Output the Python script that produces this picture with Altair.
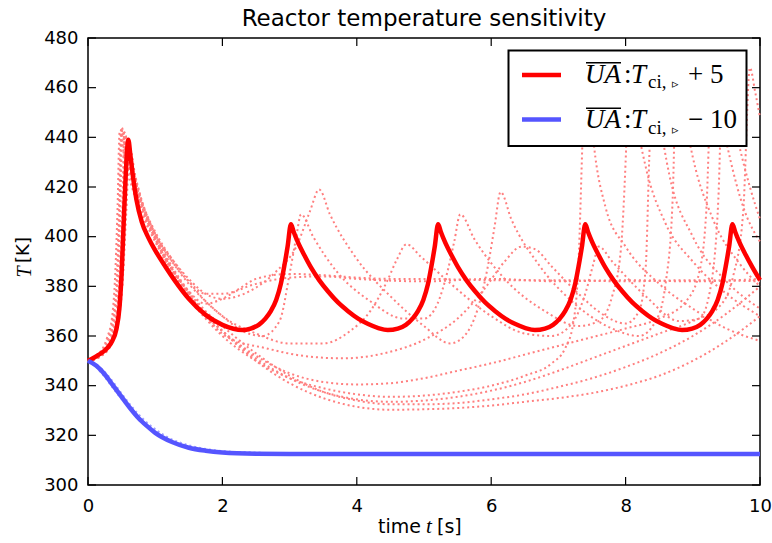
import altair as alt
import pandas as pd

# ---------------- data ----------------
x_ticks = [0, 2, 4, 6, 8, 10]
y_ticks = [300, 320, 340, 360, 380, 400, 420, 440, 460, 480]

red_main = [(0, 350), (0.15, 352.3), (0.3, 355.5), (0.36, 358), (0.42, 362.5), (0.47, 372), (0.5, 385),
            (0.53, 405), (0.56, 424), (0.6, 439), (0.63, 433), (0.67, 424), (0.72, 415), (0.8, 406),
            (0.9, 399.5), (1.0, 394.5), (1.15, 388), (1.3, 382), (1.5, 375), (1.75, 368.5), (2.0, 364.5),
            (2.3, 362.4),
            (2.42, 363), (2.54, 364.5), (2.64, 367), (2.72, 370), (2.8, 374.5), (2.87, 381), (2.92, 388),
            (2.97, 396), (3.02, 405), (3.06, 402), (3.12, 398), (3.22, 392.5), (3.32, 387.5), (3.44, 382.5),
            (3.57, 378), (3.72, 373.5), (3.87, 370), (4.02, 367), (4.17, 364.8), (4.32, 363.2), (4.46, 362.4),
            (4.61, 363), (4.73, 364.5), (4.83, 367), (4.91, 370), (4.99, 374.5), (5.06, 381), (5.11, 388),
            (5.16, 396), (5.21, 405), (5.25, 402), (5.31, 398), (5.41, 392.5), (5.51, 387.5), (5.63, 382.5),
            (5.76, 378), (5.91, 373.5), (6.06, 370), (6.21, 367), (6.36, 364.8), (6.51, 363.2), (6.65, 362.4),
            (6.80, 363), (6.92, 364.5), (7.02, 367), (7.10, 370), (7.18, 374.5), (7.25, 381), (7.30, 388),
            (7.35, 396), (7.40, 405), (7.44, 402), (7.50, 398), (7.60, 392.5), (7.70, 387.5), (7.82, 382.5),
            (7.95, 378), (8.10, 373.5), (8.25, 370), (8.40, 367), (8.55, 364.8), (8.70, 363.2), (8.84, 362.4),
            (8.99, 363), (9.11, 364.5), (9.21, 367), (9.29, 370), (9.37, 374.5), (9.44, 381), (9.49, 388),
            (9.54, 396), (9.59, 405), (9.63, 402), (9.69, 398), (9.79, 392.5), (9.89, 387.5), (10.0, 382.5)]

blue_main = [(0, 350), (0.125, 348), (0.25, 344.5), (0.375, 340), (0.5, 335.5), (0.625, 331),
             (0.75, 327), (0.875, 323.8), (1.0, 321), (1.25, 317.3), (1.5, 315), (1.75, 313.8),
             (2.0, 313.1), (2.5, 312.6), (3.0, 312.5), (4, 312.5), (6, 312.5), (8, 312.5), (10, 312.5)]

blue_dot_1 = [(0, 350), (0.15, 347.5), (0.3, 342.5), (0.45, 337), (0.6, 332), (0.8, 326.5), (1.0, 322),
              (1.25, 318), (1.5, 315.5), (1.8, 314), (2.2, 313.2), (3, 312.8), (5, 312.7), (10, 312.7)]
blue_dot_2 = [(0, 350), (0.12, 348.5), (0.25, 345.5), (0.4, 340.5), (0.55, 335), (0.75, 328.5),
              (0.95, 323.5), (1.2, 319), (1.5, 316), (1.8, 314.3), (2.2, 313.3), (3, 312.8), (6, 312.6),
              (10, 312.6)]
blue_dot_3 = [(0, 350), (0.12, 347.5), (0.25, 343.5), (0.4, 338), (0.55, 333), (0.75, 327), (0.95, 322),
              (1.2, 318), (1.5, 315), (1.8, 313.6), (2.2, 312.9), (3, 312.4), (6, 312.3), (10, 312.3)]

red_dot_1 = [(0, 350), (0.15, 352), (0.3, 358), (0.38, 366), (0.44, 385), (0.47, 410), (0.5, 444),
             (0.58, 432), (0.7, 420), (0.85, 408), (1.0, 399), (1.25, 387), (1.5, 378), (1.75, 373),
             (2.0, 375), (2.25, 379), (2.5, 383), (3.0, 385), (3.5, 384.5), (4.0, 383.5), (4.5, 383),
             (5.0, 383), (6.0, 382.5), (7.0, 382.5), (8.0, 382), (9.0, 382.5), (10, 382)]
red_dot_2 = [(0, 350), (0.2, 352), (0.35, 357), (0.45, 366), (0.52, 385), (0.56, 410), (0.6, 437),
             (0.68, 427), (0.8, 414), (1.0, 401), (1.25, 390), (1.5, 382), (1.75, 377), (2.0, 377),
             (2.5, 381), (3.0, 383.5), (3.5, 384), (4.0, 383), (5.0, 382), (6.0, 383), (7.0, 382),
             (8.0, 382.5), (9.0, 382), (10, 383)]
red_dot_3 = [(0, 350), (0.15, 351.5), (0.3, 356), (0.4, 364), (0.48, 385), (0.52, 410), (0.55, 441),
             (0.63, 430), (0.75, 417), (0.9, 405), (1.0, 399), (1.25, 386), (1.5, 377), (1.75, 369),
             (2.0, 362), (2.5, 350), (3.0, 341), (3.5, 335), (4.0, 331.5), (4.5, 330.3), (5.0, 330.5),
             (5.5, 331), (6.0, 332), (6.5, 333.5), (7.0, 335), (7.5, 337), (8.0, 340), (8.5, 344),
             (9.0, 350), (9.5, 358), (10, 368)]
red_dot_4 = [(0, 350), (0.2, 352.5), (0.33, 357.5), (0.43, 366), (0.5, 386), (0.54, 410), (0.58, 439),
             (0.66, 428), (0.78, 415), (1.0, 401), (1.25, 388), (1.5, 378), (1.75, 370), (2.0, 364),
             (2.5, 353), (3.0, 344), (3.5, 337.5), (4.0, 334), (4.5, 332.5), (5.0, 332.5), (5.5, 333),
             (6.0, 334.5), (6.5, 336.5), (7.0, 339.5), (7.5, 343), (8.0, 347.5), (8.5, 353),
             (9.0, 360), (9.5, 369), (10, 380)]
red_dot_5 = [(0, 350), (0.15, 352.5), (0.28, 359), (0.36, 368), (0.41, 388), (0.44, 412), (0.47, 442),
             (0.55, 431), (0.7, 416), (0.85, 406), (1.0, 398), (1.25, 385), (1.5, 375), (1.75, 367),
             (2.0, 360), (2.5, 350), (3.0, 343), (3.5, 339), (4.0, 336.5), (4.5, 335.5), (5.0, 336),
             (5.5, 337.5), (6.0, 340), (6.5, 344), (6.9, 349), (7.1, 355), (7.22, 365), (7.3, 390),
             (7.36, 440), (7.4, 470), (7.47, 452), (7.55, 432), (7.7, 412), (8.0, 396), (8.5, 381),
             (9.0, 371), (9.5, 363), (10, 358)]
red_dot_6 = [(0, 350), (0.15, 352), (0.3, 357.5), (0.38, 365), (0.45, 385), (0.48, 410), (0.51, 443),
             (0.6, 431), (0.72, 419), (0.88, 408), (1.0, 401), (1.25, 390), (1.5, 381), (1.75, 374),
             (2.0, 368), (2.3, 362), (2.6, 360), (2.85, 366), (3.0, 385), (3.1, 400), (3.17, 409),
             (3.35, 400), (3.7, 386), (4.2, 374), (4.7, 367), (5.0, 367), (5.2, 373), (5.35, 386),
             (5.45, 398), (5.54, 409), (5.75, 399), (6.2, 383), (6.8, 370), (7.3, 364), (7.6, 366),
             (7.8, 376), (7.93, 395), (8.0, 430), (8.05, 468), (8.13, 452), (8.3, 428), (8.6, 405),
             (9.0, 390), (9.5, 377), (10, 368)]
red_dot_7 = [(0, 350), (0.15, 351.5), (0.3, 356.5), (0.4, 365), (0.47, 384), (0.51, 410), (0.54, 442),
             (0.62, 431), (0.75, 418), (0.9, 407), (1.0, 401), (1.25, 391), (1.5, 383), (1.75, 377),
             (2.0, 375), (2.4, 378), (2.8, 386), (3.1, 396), (3.3, 410), (3.44, 419), (3.6, 409),
             (4.0, 391), (4.5, 376), (5.0, 364), (5.39, 357), (5.6, 360), (5.8, 371), (5.95, 388),
             (6.05, 404), (6.14, 418), (6.3, 407), (6.7, 389), (7.2, 374), (7.8, 363), (8.2, 360),
             (8.45, 366), (8.6, 382), (8.7, 415), (8.76, 468), (8.84, 455), (9.0, 432), (9.3, 407),
             (9.7, 389), (10, 380)]
red_dot_8 = [(0, 350), (0.2, 352), (0.35, 357), (0.45, 365), (0.52, 384), (0.57, 410), (0.62, 436),
             (0.7, 425), (0.82, 413), (1.0, 402), (1.25, 391), (1.5, 382), (1.75, 374), (2.0, 368),
             (2.5, 361), (3.0, 357), (3.5, 357), (3.9, 362), (4.2, 370), (4.45, 382), (4.6, 391),
             (4.74, 397), (4.95, 392), (5.4, 381), (6.0, 368), (6.5, 361), (6.9, 360), (7.2, 365),
             (7.4, 377), (7.52, 389), (7.6, 396), (7.8, 390), (8.3, 376), (8.8, 366), (9.1, 367),
             (9.28, 382), (9.38, 415), (9.45, 468), (9.53, 458), (9.68, 438), (9.85, 420), (10, 407)]
red_dot_9 = [(0, 350), (0.15, 352), (0.28, 358), (0.37, 367), (0.43, 386), (0.46, 411), (0.49, 443),
             (0.57, 432), (0.7, 418), (0.86, 407), (1.0, 399), (1.25, 387), (1.5, 377), (1.75, 368),
             (2.07, 359.6), (2.66, 355), (3.2, 352), (3.8, 351), (4.4, 353), (5.04, 359), (5.5, 367),
             (5.9, 379), (6.2, 390), (6.45, 396), (6.65, 395), (6.9, 388), (7.3, 377), (7.7, 368),
             (8.0, 365), (8.2, 370), (8.3, 388), (8.35, 430), (8.4, 468), (8.48, 452), (8.65, 425),
             (9.0, 400), (9.5, 382), (10, 371)]
red_dot_10 = [(0, 350), (0.15, 351.5), (0.3, 356), (0.42, 365), (0.49, 385), (0.53, 410), (0.57, 440),
              (0.65, 429), (0.77, 416), (0.92, 405), (1.0, 400), (1.25, 387), (1.5, 376), (1.75, 368),
              (2.0, 362), (2.5, 352), (3.0, 345), (3.5, 341.5), (4.0, 340.5), (4.5, 341), (5.0, 343),
              (5.5, 346), (6.0, 349), (6.5, 352.5), (7.0, 356), (7.5, 359.5), (8.0, 363), (8.5, 367),
              (8.9, 374), (9.1, 386), (9.2, 410), (9.29, 468), (9.37, 456), (9.55, 432), (9.75, 412),
              (10, 398)]
red_dot_11 = [(0, 350), (0.2, 352.3), (0.33, 357), (0.44, 366), (0.51, 385), (0.55, 410), (0.59, 438),
              (0.67, 427), (0.8, 414), (1.0, 400), (1.25, 387), (1.5, 377), (1.75, 369), (2.0, 362),
              (2.5, 351), (3.0, 343), (3.5, 337.5), (4.0, 334.5), (4.5, 333.5), (5.0, 334), (5.5, 335.5),
              (6.0, 338), (6.5, 341.5), (7.0, 346), (7.5, 351), (8.0, 356), (8.5, 361), (9.0, 366),
              (9.4, 372), (9.6, 384), (9.75, 410), (9.85, 468), (9.93, 458), (10, 448)]


def frame(name, pts):
    return pd.DataFrame({"t": [p[0] for p in pts], "T": [p[1] for p in pts], "series": name})


red_dots = pd.concat([frame(f"r{i}", p) for i, p in enumerate(
    [red_dot_1, red_dot_2, red_dot_3, red_dot_4, red_dot_5, red_dot_6,
     red_dot_7, red_dot_8, red_dot_9, red_dot_10, red_dot_11])], ignore_index=True)
blue_dots = pd.concat([frame(f"b{i}", p) for i, p in enumerate(
    [blue_dot_1, blue_dot_2, blue_dot_3])], ignore_index=True)
red_df = frame("red", red_main)
blue_df = frame("blue", blue_main)
xt_df = pd.DataFrame({"t": x_ticks})
yt_df = pd.DataFrame({"T": y_ticks})

W, H = 672, 447
SANS = "DejaVu Sans"
SERIF = "Liberation Serif"

x_axis = alt.Axis(values=x_ticks, ticks=False, domain=False, grid=False, labelFontSize=18,
                  labelFont=SANS, labelColor="black", labelPadding=12, labelFlush=False, title=None)
y_axis = alt.Axis(values=y_ticks, ticks=False, domain=False, grid=False, labelFontSize=18,
                  labelFont=SANS, labelColor="black", labelPadding=10, labelFlush=False, title=None)
X = alt.X("t:Q", scale=alt.Scale(domain=[0, 10], nice=False), axis=x_axis)
Y = alt.Y("T:Q", scale=alt.Scale(domain=[300, 480], nice=False, zero=False), axis=y_axis)

red_dot_layer = alt.Chart(red_dots).mark_line(
    interpolate="monotone", strokeDash=[2, 3], strokeWidth=2, color="#ff7f7f"
).encode(x=X, y=Y, detail="series:N")
blue_dot_layer = alt.Chart(blue_dots).mark_line(
    interpolate="monotone", strokeDash=[2, 3], strokeWidth=2, color="#a0a0ff"
).encode(x=X, y=Y, detail="series:N")
red_layer = alt.Chart(red_df).mark_line(
    interpolate="monotone", strokeWidth=4.5, color="#ff0000", strokeJoin="round"
).encode(x=X, y=Y)
blue_layer = alt.Chart(blue_df).mark_line(
    interpolate="monotone", strokeWidth=4.5, color="#5555ff", strokeJoin="round"
).encode(x=X, y=Y)

tk = 8
ticks_bottom = alt.Chart(xt_df).mark_rule(color="black", strokeWidth=1.2).encode(
    x=X, y=alt.value(H), y2=alt.value(H - tk))
ticks_top = alt.Chart(xt_df).mark_rule(color="black", strokeWidth=1.2).encode(
    x=X, y=alt.value(0), y2=alt.value(tk))
ticks_left = alt.Chart(yt_df).mark_rule(color="black", strokeWidth=1.2).encode(
    y=Y, x=alt.value(0), x2=alt.value(tk))
ticks_right = alt.Chart(yt_df).mark_rule(color="black", strokeWidth=1.2).encode(
    y=Y, x=alt.value(W), x2=alt.value(W - tk))

one = pd.DataFrame({"k": [0]})


def txt(s, x, y, size, font=SANS, style="normal", align="left", angle=0, baseline="alphabetic"):
    kw = dict(text=s, fontSize=size, font=font, fontStyle=style, align=align,
              baseline=baseline, color="black")
    if angle:
        kw["angle"] = angle
    return alt.Chart(one).mark_text(**kw).encode(x=alt.value(x), y=alt.value(y))


title = txt("Reactor temperature sensitivity", 336, -12, 23, align="center")
xl1 = txt("time", 333, 495, 19, align="right")
xl2 = txt("t", 341, 495, 21, font=SERIF, style="italic", align="center")
xl3 = txt("[s]", 349, 495, 19, align="left")
yl1 = txt("T", -63, 234, 20, font=SERIF, style="italic", align="center", angle=270, baseline="middle")
yl2 = txt("[K]", -64, 212, 18, align="center", angle=270, baseline="middle")

# legend box
leg_box = alt.Chart(one).mark_rect(fill="white", stroke="black", strokeWidth=2).encode(
    x=alt.value(420.5), x2=alt.value(658.5), y=alt.value(12.5), y2=alt.value(108))
leg_red = alt.Chart(one).mark_rule(color="#ff0000", strokeWidth=4.5).encode(
    x=alt.value(434), x2=alt.value(473), y=alt.value(37), y2=alt.value(37))
leg_blue = alt.Chart(one).mark_rule(color="#5555ff", strokeWidth=4.5).encode(
    x=alt.value(434), x2=alt.value(473), y=alt.value(81.5), y2=alt.value(81.5))

legend_parts = []
for base, sign, num in [(44.7, "+", "5"), (90.3, "\u2212", "10")]:
    legend_parts += [
        txt("UA", 497, base, 27, font=SERIF, style="italic"),
        alt.Chart(one).mark_rule(color="black", strokeWidth=1.5).encode(
            x=alt.value(498), x2=alt.value(533), y=alt.value(base - 20), y2=alt.value(base - 20)),
        txt(":", 536, base, 27, font=SERIF),
        txt("T", 543, base, 27, font=SERIF, style="italic"),
        txt("ci,", 560, base + 5.5, 19, font=SERIF),
        txt("\u25b9", 584, base + 5.5, 13, font="DejaVu Sans"),
        txt(sign, 600, base, 27, font=SERIF),
        txt(num, 622, base, 27, font=SERIF),
    ]

chart = alt.layer(
    red_dot_layer, blue_dot_layer, red_layer, blue_layer,
    ticks_bottom, ticks_top, ticks_left, ticks_right,
    leg_box, leg_red, leg_blue, *legend_parts,
    title, xl1, xl2, xl3, yl1, yl2,
).properties(
    width=W, height=H,
    padding={"left": 88, "top": 38, "right": 12, "bottom": 58},
    autosize=alt.AutoSizeParams(type="none"),
    background="white",
).configure_view(stroke="black", strokeWidth=1.5)

chart.save("out.html", embed_options={"renderer": "svg", "actions": False})
